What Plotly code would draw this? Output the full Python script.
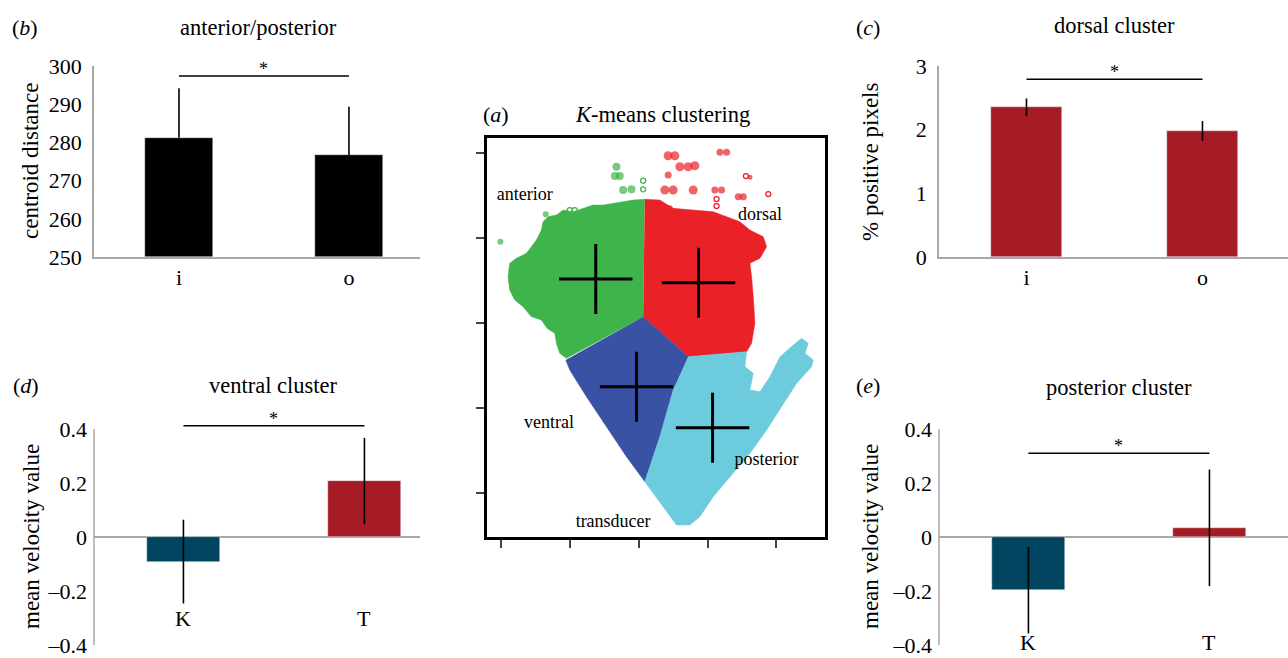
import plotly.graph_objects as go

# ---------------- data ----------------
# (b) anterior/posterior centroid distance
b_cats = ["i", "o"]
b_vals = [281.2, 276.7]
b_err = [13.0, 12.6]
b_sig = 297.4
b_base = 250

# (c) dorsal cluster % positive pixels
c_cats = ["i", "o"]
c_vals = [2.35, 1.98]
c_err = [0.14, 0.155]
c_sig = 2.79

# (d) ventral cluster mean velocity
d_cats = ["K", "T"]
d_vals = [-0.091, 0.207]
d_err = [0.155, 0.16]
d_sig = 0.412

# (e) posterior cluster mean velocity
e_cats = ["K", "T"]
e_vals = [-0.197, 0.034]
e_err = [0.16, 0.216]
e_sig = 0.31

vel_ticks = [0.4, 0.2, 0, -0.2, -0.4]
vel_ticktext = ["0.4", "0.2", "0", "\u20130.2", "\u20130.4"]

# (a) K-means cluster outlines (image units)
green_x = [555, 520, 490, 460, 430, 400, 370, 340, 310, 290, 265, 250, 245, 230, 215, 200, 170, 150, 145, 150, 165, 190, 215, 245, 262, 285, 290, 300, 320, 550]
green_y = [328, 330, 335, 340, 345, 345, 355, 365, 360, 375, 380, 395, 420, 450, 470, 490, 505, 520, 560, 600, 630, 650, 680, 690, 715, 730, 760, 790, 805, 680]
red_x = [555, 600, 640, 700, 760, 800, 840, 870, 910, 920, 900, 870, 875, 880, 885, 875, 860, 685, 550]
red_y = [328, 330, 355, 360, 365, 380, 395, 420, 440, 470, 505, 520, 560, 620, 700, 760, 785, 800, 680]
blue_x = [550, 685, 640, 600, 555, 500, 440, 380, 330, 318]
blue_y = [680, 800, 900, 1040, 1175, 1100, 1010, 920, 840, 810]
cyan_x = [685, 860, 855, 880, 870, 900, 930, 960, 1000, 1025, 1045, 1035, 1060, 1055, 1010, 960, 920, 870, 820, 760, 720, 690, 650, 610, 555, 600, 640]
cyan_y = [800, 785, 830, 850, 900, 905, 860, 800, 765, 745, 760, 790, 810, 830, 880, 960, 1020, 1090, 1150, 1220, 1280, 1305, 1305, 1250, 1175, 1040, 900]

red_blob_x = [625, 645, 780, 800, 660, 685, 705, 625, 615, 640, 700, 765, 785, 835, 850, 630, 870]
red_blob_y = [197, 197, 187, 187, 230, 230, 227, 255, 300, 300, 300, 300, 300, 320, 320, 355, 262]
red_blob_s = [9, 9, 7, 7, 9, 9, 9, 7, 9, 9, 9, 7, 7, 7, 7, 6, 5]
red_ring_x = [925, 770, 770, 858]
red_ring_y = [312, 327, 348, 258]
green_blob_x = [470, 465, 480, 490, 515, 122, 258]
green_blob_y = [230, 258, 258, 300, 298, 455, 373]
green_blob_s = [8, 8, 8, 8, 8, 6, 6]
green_ring_x = [550, 550, 330, 345, 225, 185]
green_ring_y = [272, 298, 360, 360, 485, 510]

cross_x = [408, 716, 530, 758]
cross_y = [567, 578, 890, 1013]

region_labels = ["anterior", "dorsal", "ventral", "posterior", "transducer"]
region_lx = [195, 900, 268, 920, 460]
region_ly = [315, 377, 1000, 1112, 1298]

# ---------------- style ----------------
FONT = "Liberation Serif"
BAR_RED = "#a51c24"
BAR_BLUE = "#00445f"
AX_GRAY = "#a8a8a8"
W, H = 1288, 658


def px(x):
    return x / W


def py(y):
    return 1 - y / H


fig = go.Figure()

# bars ---------------------------------------------------------
err_kw = dict(type="data", color="black", thickness=1.6, width=0)
fig.add_trace(go.Bar(x=b_cats, y=[v - b_base for v in b_vals], base=b_base, width=0.4, marker_color="black",
                     error_y=dict(array=b_err, arrayminus=[0, 0], symmetric=False, **err_kw),
                     xaxis="x", yaxis="y"))
fig.add_trace(go.Bar(x=c_cats, y=c_vals, width=0.4, marker_color=BAR_RED,
                     error_y=dict(array=c_err, **err_kw), xaxis="x2", yaxis="y2"))
fig.add_trace(go.Bar(x=d_cats, y=d_vals, width=0.4, marker_color=[BAR_BLUE, BAR_RED],
                     error_y=dict(array=d_err, **err_kw), xaxis="x3", yaxis="y3"))
fig.add_trace(go.Bar(x=e_cats, y=e_vals, width=0.4, marker_color=[BAR_BLUE, BAR_RED],
                     error_y=dict(array=e_err, **err_kw), xaxis="x4", yaxis="y4"))

# significance lines
for cats, sig, xa, ya in [(b_cats, b_sig, "x", "y"), (c_cats, c_sig, "x2", "y2"),
                          (d_cats, d_sig, "x3", "y3"), (e_cats, e_sig, "x4", "y4")]:
    fig.add_trace(go.Scatter(x=cats, y=[sig, sig], mode="lines", cliponaxis=False,
                             line=dict(color="black", width=1.5), xaxis=xa, yaxis=ya,
                             hoverinfo="skip"))

# cluster panel --------------------------------------------------
for xs, ys, col in [(green_x, green_y, "#3fb44a"), (red_x, red_y, "#ea2228"),
                    (blue_x, blue_y, "#3a52a4"), (cyan_x, cyan_y, "#6ccbdc")]:
    fig.add_trace(go.Scatter(x=xs, y=ys, fill="toself", fillcolor=col, mode="lines",
                             line=dict(width=0.5, color=col), xaxis="x5", yaxis="y5",
                             hoverinfo="skip"))
fig.add_trace(go.Scatter(x=red_blob_x, y=red_blob_y, mode="markers",
                         marker=dict(color="#ea2228", size=red_blob_s, line=dict(width=0)),
                         xaxis="x5", yaxis="y5"))
fig.add_trace(go.Scatter(x=green_blob_x, y=green_blob_y, mode="markers",
                         marker=dict(color="#3fb44a", size=green_blob_s, line=dict(width=0)),
                         xaxis="x5", yaxis="y5"))
fig.add_trace(go.Scatter(x=red_ring_x, y=red_ring_y, mode="markers",
                         marker=dict(symbol="circle-open", color="#ea2228", size=5, line=dict(width=1.3)),
                         xaxis="x5", yaxis="y5"))
fig.add_trace(go.Scatter(x=green_ring_x, y=green_ring_y, mode="markers",
                         marker=dict(symbol="circle-open", color="#3fb44a", size=5, line=dict(width=1.3)),
                         xaxis="x5", yaxis="y5"))

# crosses at centroids
hx, hy = [], []
for cx, cy in zip(cross_x, cross_y):
    hx += [cx - 110, cx + 110, None, cx, cx, None]
    hy += [cy, cy, None, cy - 105, cy + 105, None]
fig.add_trace(go.Scatter(x=hx, y=hy, mode="lines", line=dict(color="black", width=3),
                         xaxis="x5", yaxis="y5", hoverinfo="skip"))

fig.add_trace(go.Scatter(x=region_lx, y=region_ly, mode="text", text=region_labels,
                         textfont=dict(family=FONT, size=18, color="black"),
                         xaxis="x5", yaxis="y5", cliponaxis=False))

# axes ------------------------------------------------------------
tickfont = dict(family=FONT, size=22, color="black")
common_y = dict(showgrid=False, zeroline=False, showline=True, linecolor=AX_GRAY, linewidth=1.5,
                ticks="", tickfont=tickfont, ticklabelstandoff=6, automargin=False)
common_x = dict(showgrid=False, zeroline=False, showline=True, linecolor=AX_GRAY, linewidth=1.5,
                ticks="", tickfont=tickfont, type="category", automargin=False)
vel_y = {**common_y, "showline": False, "zeroline": True, "zerolinecolor": AX_GRAY, "zerolinewidth": 1.5}

D_TOP = 0.43  # headroom so the significance bar of (d) is not clipped
d_top_px = 429 - (D_TOP - 0.4) * (645 - 429) / 0.8

fig.update_layout(
    width=W, height=H, margin=dict(l=0, r=0, t=0, b=0, pad=0, autoexpand=False),
    paper_bgcolor="white", plot_bgcolor="rgba(0,0,0,0)", showlegend=False, bargap=0,
    font=dict(family=FONT, color="black"),
    xaxis=dict(domain=[px(94), px(420)], range=[-0.5, 1.418], anchor="y", **common_x),
    yaxis=dict(domain=[py(257), py(66)], range=[250, 300], anchor="x",
               tickvals=[250, 260, 270, 280, 290, 300], **common_y),
    xaxis2=dict(domain=[px(939), 1.0], range=[-0.497, 1.486], anchor="y2", **common_x),
    yaxis2=dict(domain=[py(257), py(66)], range=[0, 3], tickvals=[0, 1, 2, 3], anchor="x2", **common_y),
    xaxis3=dict(domain=[px(94), px(420)], range=[-0.494, 1.307], anchor="y3",
                **{**common_x, "showline": False, "showticklabels": False}),
    yaxis3=dict(domain=[py(645), py(d_top_px)], range=[-0.4, D_TOP], tickvals=vel_ticks, ticktext=vel_ticktext,
                anchor="x3", **vel_y),
    xaxis4=dict(domain=[px(939), 1.0], range=[-0.494, 1.434], anchor="y4",
                **{**common_x, "showline": False, "showticklabels": False}),
    yaxis4=dict(domain=[py(645), py(429)], range=[-0.4, 0.4], tickvals=vel_ticks, ticktext=vel_ticktext,
                anchor="x4", **vel_y),
    xaxis5=dict(domain=[px(487), px(825)], range=[82, 1095], anchor="y5", showgrid=False, zeroline=False,
                showline=True, mirror=True, linecolor="black", linewidth=3, ticks="outside", ticklen=8,
                tickwidth=1.5, tickcolor="#444", tick0=125, dtick=206, showticklabels=False, automargin=False),
    yaxis5=dict(domain=[py(536.7), py(137.7)], range=[1340, 143], anchor="x5", showgrid=False, zeroline=False,
                showline=True, mirror=True, linecolor="black", linewidth=3, ticks="outside", ticklen=8,
                tickwidth=1.5, tickcolor="#444", tick0=188, dtick=255, showticklabels=False, automargin=False),
)

# y-axis lines of the velocity panels, spanning -0.4 .. 0.4
for xa_px, ya in [(94, "y3"), (939, "y4")]:
    fig.add_shape(type="line", xref="paper", yref=ya, x0=px(xa_px), x1=px(xa_px), y0=-0.4, y1=0.4,
                  line=dict(color=AX_GRAY, width=1.5))

# annotations -----------------------------------------------------
ann = []
titles = [("(<i>b</i>)", 25, 27, "anterior/posterior", 258, 27),
          ("(<i>c</i>)", 868, 27, "dorsal cluster", 1114, 26),
          ("(<i>d</i>)", 26, 385, "ventral cluster", 273, 385),
          ("(<i>e</i>)", 868, 385, "posterior cluster", 1119, 387),
          ("(<i>a</i>)", 496, 114, "<i>K</i>-means clustering", 662, 114)]
for lab, lx, ly, t, tx, ty in titles:
    ann.append(dict(text=lab, x=px(lx), y=py(ly), xref="paper", yref="paper", showarrow=False,
                    font=dict(family=FONT, size=22), xanchor="center", yanchor="middle"))
    ann.append(dict(text=t, x=px(tx), y=py(ty), xref="paper", yref="paper", showarrow=False,
                    font=dict(family=FONT, size=22.5), xanchor="center", yanchor="middle"))

for t, x, y in [("centroid distance", 31, 161), ("% positive pixels", 870, 162),
                ("mean velocity value", 31, 537), ("mean velocity value", 870, 537)]:
    ann.append(dict(text=t, x=px(x), y=py(y), xref="paper", yref="paper", showarrow=False,
                    textangle=-90, font=dict(family=FONT, size=23), xanchor="center", yanchor="middle"))

# significance stars
for cats, sig, xa, ya in [(b_cats, b_sig, "x", "y"), (c_cats, c_sig, "x2", "y2"),
                          (d_cats, d_sig, "x3", "y3"), (e_cats, e_sig, "x4", "y4")]:
    ann.append(dict(text="*", x=0.5, y=sig, xref=xa, yref=ya, showarrow=False, yshift=7,
                    font=dict(family=FONT, size=18), xanchor="center", yanchor="middle"))

# in-plot category labels for velocity panels
for cats, yv, xa, ya in [(d_cats, -0.30, "x3", "y3"), (e_cats, -0.39, "x4", "y4")]:
    for c in cats:
        ann.append(dict(text=c, x=c, y=yv, xref=xa, yref=ya, showarrow=False,
                        font=dict(family=FONT, size=22), xanchor="center", yanchor="middle"))

fig.update_layout(annotations=ann)
fig.write_html("out.html", config={"displayModeBar": False},
               post_script="document.body.style.margin='0px';document.body.style.overflow='hidden';")
